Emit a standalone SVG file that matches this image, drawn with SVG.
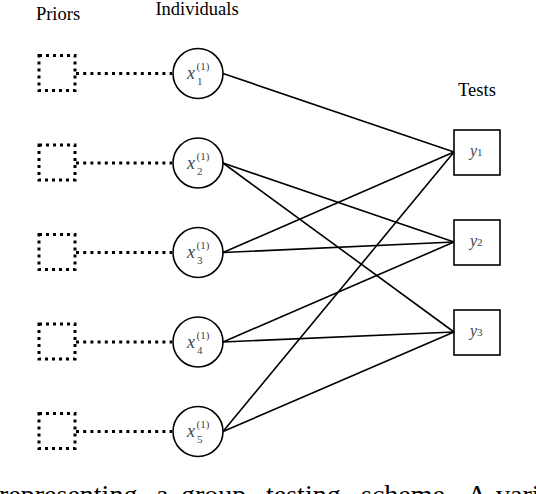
<svg xmlns="http://www.w3.org/2000/svg" width="536" height="494" viewBox="0 0 536 494">
<style>
.lbl{font-family:"Liberation Serif","Times New Roman",serif;font-size:18.5px;fill:#000}
.cap{font-family:"Liberation Serif","Times New Roman",serif;font-size:28px;fill:#000}
.prior{fill:none;stroke:#000;stroke-width:3;stroke-dasharray:3 4}
.dot{stroke:#000;stroke-width:3;stroke-dasharray:3 4.2}
.ind{fill:#fff;stroke:#000;stroke-width:1.6}
.test{fill:#fff;stroke:#000;stroke-width:1.6}
.edge{stroke:#000;stroke-width:1.6}
.m{font-family:"Liberation Serif","Times New Roman",serif;fill:#444}
.mi{font-style:italic;font-size:18px}
.ms{font-size:11px}
.yi{font-style:italic;font-size:16px}
</style>
<text class="lbl" x="58" y="20" text-anchor="middle">Priors</text>
<text class="lbl" x="197" y="15" text-anchor="middle">Individuals</text>
<text class="lbl" x="477" y="96" text-anchor="middle">Tests</text>

<g id="connectors">
<line class="dot" x1="76" y1="73.5" x2="172" y2="73.5"/>
<line class="dot" x1="76" y1="163" x2="172" y2="163"/>
<line class="dot" x1="76" y1="252.5" x2="172" y2="252.5"/>
<line class="dot" x1="76" y1="342" x2="172" y2="342"/>
<line class="dot" x1="76" y1="431.5" x2="172" y2="431.5"/>
<line class="edge" x1="223" y1="73.5" x2="454" y2="152"/>
<line class="edge" x1="223" y1="163" x2="454" y2="242"/>
<line class="edge" x1="223" y1="163" x2="454" y2="332"/>
<line class="edge" x1="223" y1="252.5" x2="454" y2="152"/>
<line class="edge" x1="223" y1="252.5" x2="454" y2="242"/>
<line class="edge" x1="223" y1="342" x2="454" y2="242"/>
<line class="edge" x1="223" y1="342" x2="454" y2="332"/>
<line class="edge" x1="223" y1="431.5" x2="454" y2="152"/>
<line class="edge" x1="223" y1="431.5" x2="454" y2="332"/>
</g>

<g id="prior1"><rect class="prior" x="39" y="55.5" width="36" height="35"/></g>
<g id="prior2"><rect class="prior" x="39" y="145" width="36" height="35"/></g>
<g id="prior3"><rect class="prior" x="39" y="234.5" width="36" height="35"/></g>
<g id="prior4"><rect class="prior" x="39" y="324" width="36" height="35"/></g>
<g id="prior5"><rect class="prior" x="39" y="413.5" width="36" height="35"/></g>

<g id="x1"><circle class="ind" cx="198" cy="73.5" r="25"/>
<text class="m mi" x="187" y="79">x</text><text class="m ms" x="196.5" y="70">(1)</text><text class="m ms" x="197" y="85">1</text></g>
<g id="x2"><circle class="ind" cx="198" cy="163" r="25"/>
<text class="m mi" x="187" y="168.5">x</text><text class="m ms" x="196.5" y="159.5">(1)</text><text class="m ms" x="197" y="174.5">2</text></g>
<g id="x3"><circle class="ind" cx="198" cy="252.5" r="25"/>
<text class="m mi" x="187" y="258">x</text><text class="m ms" x="196.5" y="249">(1)</text><text class="m ms" x="197" y="264">3</text></g>
<g id="x4"><circle class="ind" cx="198" cy="342" r="25"/>
<text class="m mi" x="187" y="347.5">x</text><text class="m ms" x="196.5" y="338.5">(1)</text><text class="m ms" x="197" y="353.5">4</text></g>
<g id="x5"><circle class="ind" cx="198" cy="431.5" r="25"/>
<text class="m mi" x="187" y="437">x</text><text class="m ms" x="196.5" y="428">(1)</text><text class="m ms" x="197" y="443">5</text></g>

<g id="y1"><rect class="test" x="454" y="130" width="46" height="45"/>
<text class="m" x="470" y="156"><tspan class="yi">y</tspan><tspan class="ms">1</tspan></text></g>
<g id="y2"><rect class="test" x="454" y="220" width="46" height="45"/>
<text class="m" x="470" y="246"><tspan class="yi">y</tspan><tspan class="ms">2</tspan></text></g>
<g id="y3"><rect class="test" x="454" y="310" width="46" height="45"/>
<text class="m" x="470" y="336"><tspan class="yi">y</tspan><tspan class="ms">3</tspan></text></g>

<g id="caption">
<text class="cap" x="-1" y="504">representing</text>
<text class="cap" x="156" y="504">a</text>
<text class="cap" x="181" y="504">group</text>
<text class="cap" x="266" y="504">testing</text>
<text class="cap" x="361" y="504">scheme.</text>
<text class="cap" x="467" y="504">A</text>
<text class="cap" x="496" y="504">variab</text>
</g>
</svg>
